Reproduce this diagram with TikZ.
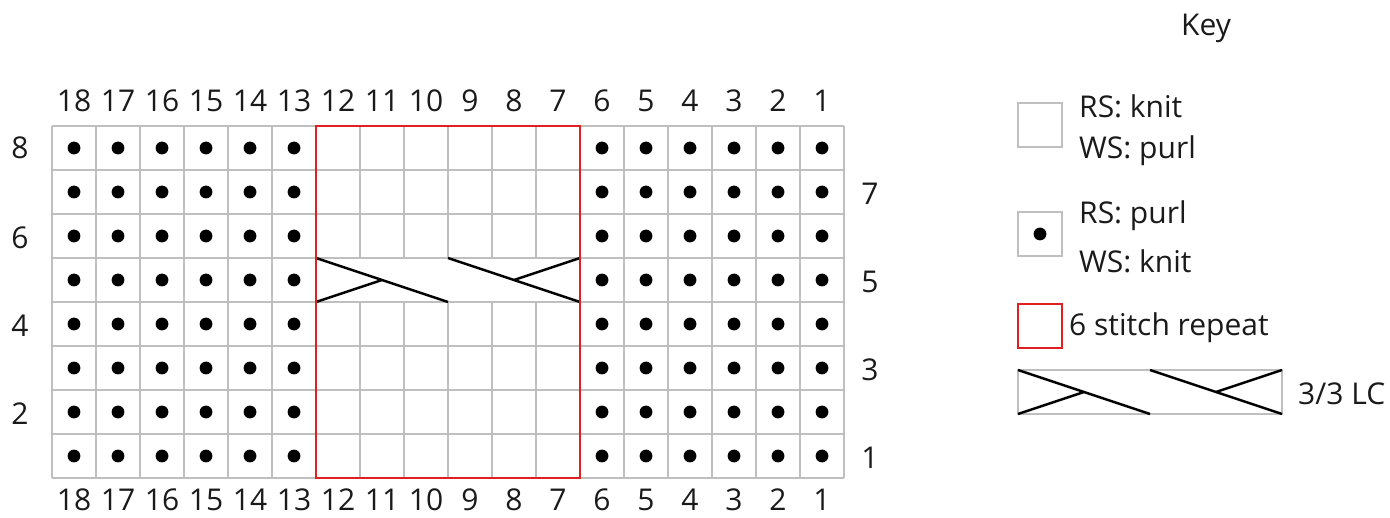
\documentclass[tikz,border=0pt]{standalone}
\usepackage{fontspec}
\setmainfont{Open Sans}
\definecolor{gridgray}{HTML}{BFBFBF}
\definecolor{repred}{HTML}{E02020}
\definecolor{txt}{HTML}{1A1A1A}
\tikzset{
  gridline/.style={draw=gridgray,line width=2.6pt},
  redline/.style={draw=repred,line width=2.6pt},
  cableline/.style={draw=black,line width=2.4pt},
  purldot/.style={fill=black,draw=none},
  lbl/.style={text=txt,font=\fontsize{30}{36}\selectfont,inner sep=0pt},
  keytxt/.style={text=txt,font=\fontsize{30}{36}\selectfont,inner sep=0pt,anchor=west},
}
\begin{document}
\begin{tikzpicture}[x=1pt,y=-1pt]
\useasboundingbox (0,0) rectangle (1390,518);
% horizontal grid lines
\foreach \j in {0,...,8} {
  \draw[gridline] (52,126+44*\j) -- (844,126+44*\j);
}
% vertical grid lines
\foreach \i in {0,...,6,12,13,...,18} {
  \draw[gridline] (52+44*\i,126) -- (52+44*\i,478);
}
\foreach \i in {7,...,11} {
  \draw[gridline] (52+44*\i,126) -- (52+44*\i,258);
  \draw[gridline] (52+44*\i,302) -- (52+44*\i,478);
}
% purl dots
\foreach \i in {0,...,5,12,13,...,17} {
  \foreach \j in {0,...,7} {
    \fill[purldot] (74+44*\i,148+44*\j) circle (6.4);
  }
}
% cable in row 5
\coordinate (ca) at (316,258);
\coordinate (cb) at (448,302);
\coordinate (cc) at (316,302);
\coordinate (cx1) at (382,280);
\coordinate (cd) at (448,258);
\coordinate (ce) at (580,302);
\coordinate (cf) at (580,258);
\coordinate (cx2) at (514,280);
\draw[cableline] (ca) -- (cb);
\draw[cableline] (cc) -- (cx1);
\draw[cableline] (cd) -- (ce);
\draw[cableline] (cf) -- (cx2);
% repeat box
\draw[redline] (316,126) rectangle (580,478);
% column numbers
\foreach \i in {0,...,17} {
  \pgfmathtruncatemacro{\n}{18-\i}
  \node[lbl] (top\n) at (74+44*\i,101) {\n};
  \node[lbl] (bot\n) at (74+44*\i,500) {\n};
}
% row numbers
\node[lbl] (r8) at (20,148) {8};
\node[lbl] (r6) at (20,238) {6};
\node[lbl] (r4) at (20,326) {4};
\node[lbl] (r2) at (20,414) {2};
\node[lbl] (r7) at (870,194) {7};
\node[lbl] (r5) at (870,282) {5};
\node[lbl] (r3) at (870,370) {3};
\node[lbl] (r1) at (870,458) {1};
% key
\node[lbl] (key) at (1206,28) {Key};
\draw[gridline] (1018,103) rectangle (1062,147);
\node[keytxt] (k1a) at (1079,106) {RS: knit};
\node[keytxt] (k1b) at (1079,151) {WS: purl};
\draw[gridline] (1018,212) rectangle (1062,256);
\fill[purldot] (1040,234) circle (6.4);
\node[keytxt] (k2a) at (1079,216) {RS: purl};
\node[keytxt] (k2b) at (1079,261) {WS: knit};
\draw[redline] (1018,304) rectangle (1062,348);
\node[keytxt] (k3) at (1069,328) {6 stitch repeat};
\draw[gridline] (1018,370) rectangle (1282,414);
\coordinate (ka) at (1018,370);
\coordinate (kb) at (1150,414);
\coordinate (kc) at (1018,414);
\coordinate (kx1) at (1084,392);
\coordinate (kd) at (1150,370);
\coordinate (ke) at (1282,414);
\coordinate (kf) at (1282,370);
\coordinate (kx2) at (1216,392);
\draw[cableline] (ka) -- (kb);
\draw[cableline] (kc) -- (kx1);
\draw[cableline] (kd) -- (ke);
\draw[cableline] (kf) -- (kx2);
\node[keytxt] (k4) at (1298,394) {3/3 LC};
\end{tikzpicture}
\end{document}
